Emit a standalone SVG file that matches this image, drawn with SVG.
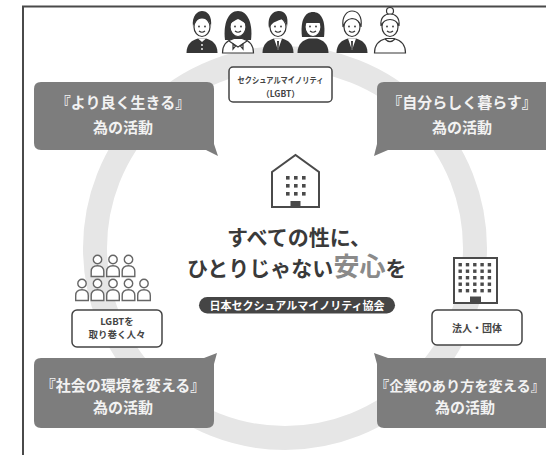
<svg xmlns="http://www.w3.org/2000/svg" width="546" height="455" viewBox="0 0 546 455">
  <style>
    .jp { font-family: "Noto Sans CJK JP", "Noto Sans", sans-serif; font-weight: 700; }
    .bubble { fill: #7d7d7d; }
    .btxt { fill: #f2f2f2; font-size: 15px; text-anchor: middle; }
    .lbl { fill: #ffffff; stroke: #444444; stroke-width: 1.5; }
    .ltxt { fill: #444444; text-anchor: middle; }
    .ink { fill: #363636; }
    .line { fill: none; stroke: #363636; stroke-width: 1.2; }
    .face { fill: #ffffff; stroke: #363636; stroke-width: 1.2; }
    .pale { fill: #ffffff; stroke: #363636; stroke-width: 1.2; }
    .ppl { fill: #ffffff; stroke: #666666; stroke-width: 1.4; }
    .bld { fill: #ffffff; stroke: #4a4a4a; stroke-width: 2; }
    .win { fill: #4a4a4a; }
  </style>
  <defs>
    <!-- face with eyes and smile, centred on x=0 -->
    <g id="face">
      <ellipse class="face" cx="0" cy="27" rx="8" ry="9.5"/>
      <circle class="ink" cx="-3" cy="26.5" r="0.9"/>
      <circle class="ink" cx="3" cy="26.5" r="0.9"/>
      <path class="line" d="M-3,31 Q0,33.5 3,31"/>
    </g>
    <path id="torso" d="M-15.5,53 C-15.5,44 -10,40 -4,38.5 L4,38.5 C10,40 15.5,44 15.5,53 Z"/>
    <!-- small outlined person used in the crowd icon -->
    <g id="pp">
      <circle class="ppl" cx="0" cy="0" r="4.2"/>
      <path class="ppl" d="M-6.3,17 V12 Q-6.3,6.2 0,6.2 Q6.3,6.2 6.3,12 V17 Z"/>
    </g>
  </defs>

  <rect width="546" height="455" fill="#ffffff"/>

  <!-- page frame -->
  <path d="M23,455 V6.5 H546" fill="none" stroke="#4a4a4a" stroke-width="2"/>

  <!-- background ring linking the four activities -->
  <g id="connectors">
    <circle cx="285" cy="248" r="190" fill="none" stroke="#e6e6e6" stroke-width="24"/>
  </g>

  <!-- LGBT people row -->
  <g id="people">
    <!-- boy in school uniform -->
    <g transform="translate(202,0)">
      <use href="#torso" class="ink"/>
      <path fill="#ffffff" d="M-4,38.5 L0,42 L4,38.5 Z"/>
      <circle fill="#ffffff" cx="0" cy="45" r="0.9"/>
      <circle fill="#ffffff" cx="0" cy="49" r="0.9"/>
      <use href="#face"/>
      <path class="ink" d="M-9,27 C-10.5,15 -4,11 0,11 C5,11 10.5,15 9,27 C8,21 5,18.5 0,18.5 C-4,18.5 -7.5,21 -9,27 Z"/>
    </g>
    <!-- girl in sailor uniform -->
    <g transform="translate(238,0)">
      <path class="ink" d="M-13,40 C-15,24 -10,11 0,11 C10,11 15,24 13,40 Z"/>
      <use href="#torso" class="pale"/>
      <path class="line" d="M-9,41 L0,47 L9,41"/>
      <path class="pale" d="M-2.5,46 L-5,44 L-5,49 Z M2.5,46 L5,44 L5,49 Z"/>
      <use href="#face"/>
      <path class="ink" d="M-8.5,24 C-8,16 -4,14 0,14 C4,14 8,16 8.5,24 C5,22 3,20 0,19 C-3,20 -5,22 -8.5,24 Z"/>
    </g>
    <!-- young man in jacket -->
    <g transform="translate(278,0)">
      <use href="#torso" class="ink"/>
      <path fill="#ffffff" d="M-4,38.5 L0,50 L4,38.5 Z"/>
      <path class="ink" d="M-1,41 L1,41 L0.6,49 L-0.6,49 Z"/>
      <use href="#face"/>
      <path class="ink" d="M-9,28 C-11,15 -4,11 1,11 C7,11 11,16 9,27 C8,22 6,20 4,19 C0,21 -5,21 -9,28 Z"/>
    </g>
    <!-- woman with bob hair -->
    <g transform="translate(313,0)">
      <path class="ink" d="M-11,37 C-13,20 -8,12 0,12 C8,12 13,20 11,37 Z"/>
      <use href="#torso" class="ink"/>
      <use href="#face"/>
      <path class="ink" d="M-9,23 C-9,16 -5,13 0,13 C5,13 9,16 9,23 L-9,23 Z"/>
    </g>
    <!-- older man in suit -->
    <g transform="translate(352,0)">
      <use href="#torso" class="ink"/>
      <path fill="#ffffff" d="M-4,38.5 L0,50 L4,38.5 Z"/>
      <path class="ink" d="M-1,41 L1,41 L0.6,49 L-0.6,49 Z"/>
      <use href="#face"/>
      <path class="pale" d="M-9,27 C-10.5,15 -4,11 0,11 C5,11 10.5,15 9,27 C8,21 5,19 0,18.5 C-4,19 -7.5,21 -9,27 Z"/>
    </g>
    <!-- older woman with bun -->
    <g transform="translate(390,0)">
      <use href="#torso" class="pale"/>
      <path class="line" d="M-5,39 Q0,44 5,39"/>
      <circle class="pale" cx="0" cy="11" r="3.5"/>
      <use href="#face"/>
      <path class="pale" d="M-9,26 C-10,17 -5,14 0,14 C5,14 10,17 9,26 C7,21 4,19.5 0,19.5 C-4,19.5 -7,21 -9,26 Z"/>
    </g>
  </g>

  <g id="lgbt-label">
    <rect class="lbl" x="229" y="67" width="103" height="35" rx="4"/>
    <text class="jp ltxt" x="280.5" y="83" font-size="8.5" textLength="86" lengthAdjust="spacingAndGlyphs">セクシュアルマイノリティ</text>
    <text class="jp ltxt" x="280.5" y="97" font-size="8.5">（LGBT）</text>
  </g>

  <!-- four activity bubbles -->
  <g id="activity-live-better">
    <path class="bubble" d="M41,82 H207 Q214,82 214,89 V144 L218,156 L206,150 H41 Q34,150 34,143 V89 Q34,82 41,82 Z"/>
    <text class="jp btxt" x="123" y="108">『より良く生きる』</text>
    <text class="jp btxt" x="123" y="133">為の活動</text>
  </g>
  <g id="activity-live-as-self">
    <path class="bubble" d="M384,82 H552 V150 H388 L374,156 L377,144 V89 Q377,82 384,82 Z"/>
    <text class="jp btxt" x="462" y="108">『自分らしく暮らす』</text>
    <text class="jp btxt" x="462" y="133">為の活動</text>
  </g>
  <g id="activity-change-society">
    <path class="bubble" d="M41,358 H204 L217,353 L214,364 V421 Q214,428 207,428 H41 Q34,428 34,421 V365 Q34,358 41,358 Z"/>
    <text class="jp btxt" x="123" y="391">『社会の環境を変える』</text>
    <text class="jp btxt" x="123" y="413">為の活動</text>
  </g>
  <g id="activity-change-companies">
    <path class="bubble" d="M388,358 H552 V428 H384 Q377,428 377,421 V364 L374,353 Z"/>
    <text class="jp btxt" x="460" y="391" style="font-size:14.2px">『企業のあり方を変える』</text>
    <text class="jp btxt" x="465" y="413">為の活動</text>
  </g>

  <!-- central association -->
  <g id="association">
    <path class="bld" d="M272,207 V172 L295.5,155 L319,172 V207 Z"/>
    <g class="win">
      <rect x="286" y="176" width="3.6" height="3.6"/>
      <rect x="294" y="176" width="3.6" height="3.6"/>
      <rect x="302" y="176" width="3.6" height="3.6"/>
      <rect x="286" y="184" width="3.6" height="3.6"/>
      <rect x="294" y="184" width="3.6" height="3.6"/>
      <rect x="302" y="184" width="3.6" height="3.6"/>
      <rect x="286" y="192" width="3.6" height="3.6"/>
      <rect x="294" y="192" width="3.6" height="3.6"/>
      <rect x="302" y="192" width="3.6" height="3.6"/>
      <rect x="290.5" y="201" width="10" height="6"/>
    </g>
    <text class="jp" x="227" y="244.5" font-size="21" fill="#3a3a3a">すべての性に、</text>
    <text class="jp" x="187" y="276" font-size="21" fill="#3a3a3a">ひとりじゃない<tspan font-size="26" fill="#8a8a8a">安心</tspan>を</text>
    <rect x="199" y="297" width="196" height="16.5" rx="8.25" fill="#454545"/>
    <text class="jp" x="297" y="309.5" font-size="11" fill="#ffffff" text-anchor="middle">日本セクシュアルマイノリティ協会</text>
  </g>

  <!-- surrounding people -->
  <g id="allies">
    <use href="#pp" x="97.5" y="259.5"/>
    <use href="#pp" x="113" y="259.5"/>
    <use href="#pp" x="128.5" y="259.5"/>
    <use href="#pp" x="82" y="283.5"/>
    <use href="#pp" x="97.5" y="283.5"/>
    <use href="#pp" x="113" y="283.5"/>
    <use href="#pp" x="128.5" y="283.5"/>
    <use href="#pp" x="144" y="283.5"/>
    <rect class="lbl" x="72" y="310" width="90" height="37" rx="5" stroke="#555555"/>
    <text class="jp ltxt" x="117" y="325" font-size="9.5">LGBTを</text>
    <text class="jp ltxt" x="117" y="338" font-size="9.5">取り巻く人々</text>
  </g>

  <!-- corporations and organisations -->
  <g id="corporations">
    <rect class="bld" x="454" y="258" width="43" height="45"/>
    <g class="win">
      <rect x="458.5" y="263" width="3.4" height="3.4"/>
      <rect x="465.8" y="263" width="3.4" height="3.4"/>
      <rect x="473.1" y="263" width="3.4" height="3.4"/>
      <rect x="480.4" y="263" width="3.4" height="3.4"/>
      <rect x="487.7" y="263" width="3.4" height="3.4"/>
      <rect x="458.5" y="269.5" width="3.4" height="3.4"/>
      <rect x="465.8" y="269.5" width="3.4" height="3.4"/>
      <rect x="473.1" y="269.5" width="3.4" height="3.4"/>
      <rect x="480.4" y="269.5" width="3.4" height="3.4"/>
      <rect x="487.7" y="269.5" width="3.4" height="3.4"/>
      <rect x="458.5" y="276" width="3.4" height="3.4"/>
      <rect x="465.8" y="276" width="3.4" height="3.4"/>
      <rect x="473.1" y="276" width="3.4" height="3.4"/>
      <rect x="480.4" y="276" width="3.4" height="3.4"/>
      <rect x="487.7" y="276" width="3.4" height="3.4"/>
      <rect x="458.5" y="282.5" width="3.4" height="3.4"/>
      <rect x="465.8" y="282.5" width="3.4" height="3.4"/>
      <rect x="473.1" y="282.5" width="3.4" height="3.4"/>
      <rect x="480.4" y="282.5" width="3.4" height="3.4"/>
      <rect x="487.7" y="282.5" width="3.4" height="3.4"/>
      <rect x="458.5" y="289" width="3.4" height="3.4"/>
      <rect x="465.8" y="289" width="3.4" height="3.4"/>
      <rect x="473.1" y="289" width="3.4" height="3.4"/>
      <rect x="480.4" y="289" width="3.4" height="3.4"/>
      <rect x="487.7" y="289" width="3.4" height="3.4"/>
      <rect x="470" y="296.5" width="11" height="6"/>
    </g>
    <rect class="lbl" x="432" y="310" width="90" height="35" rx="5" stroke="#555555"/>
    <text class="jp ltxt" x="477" y="332" font-size="10">法人・団体</text>
  </g>
</svg>
